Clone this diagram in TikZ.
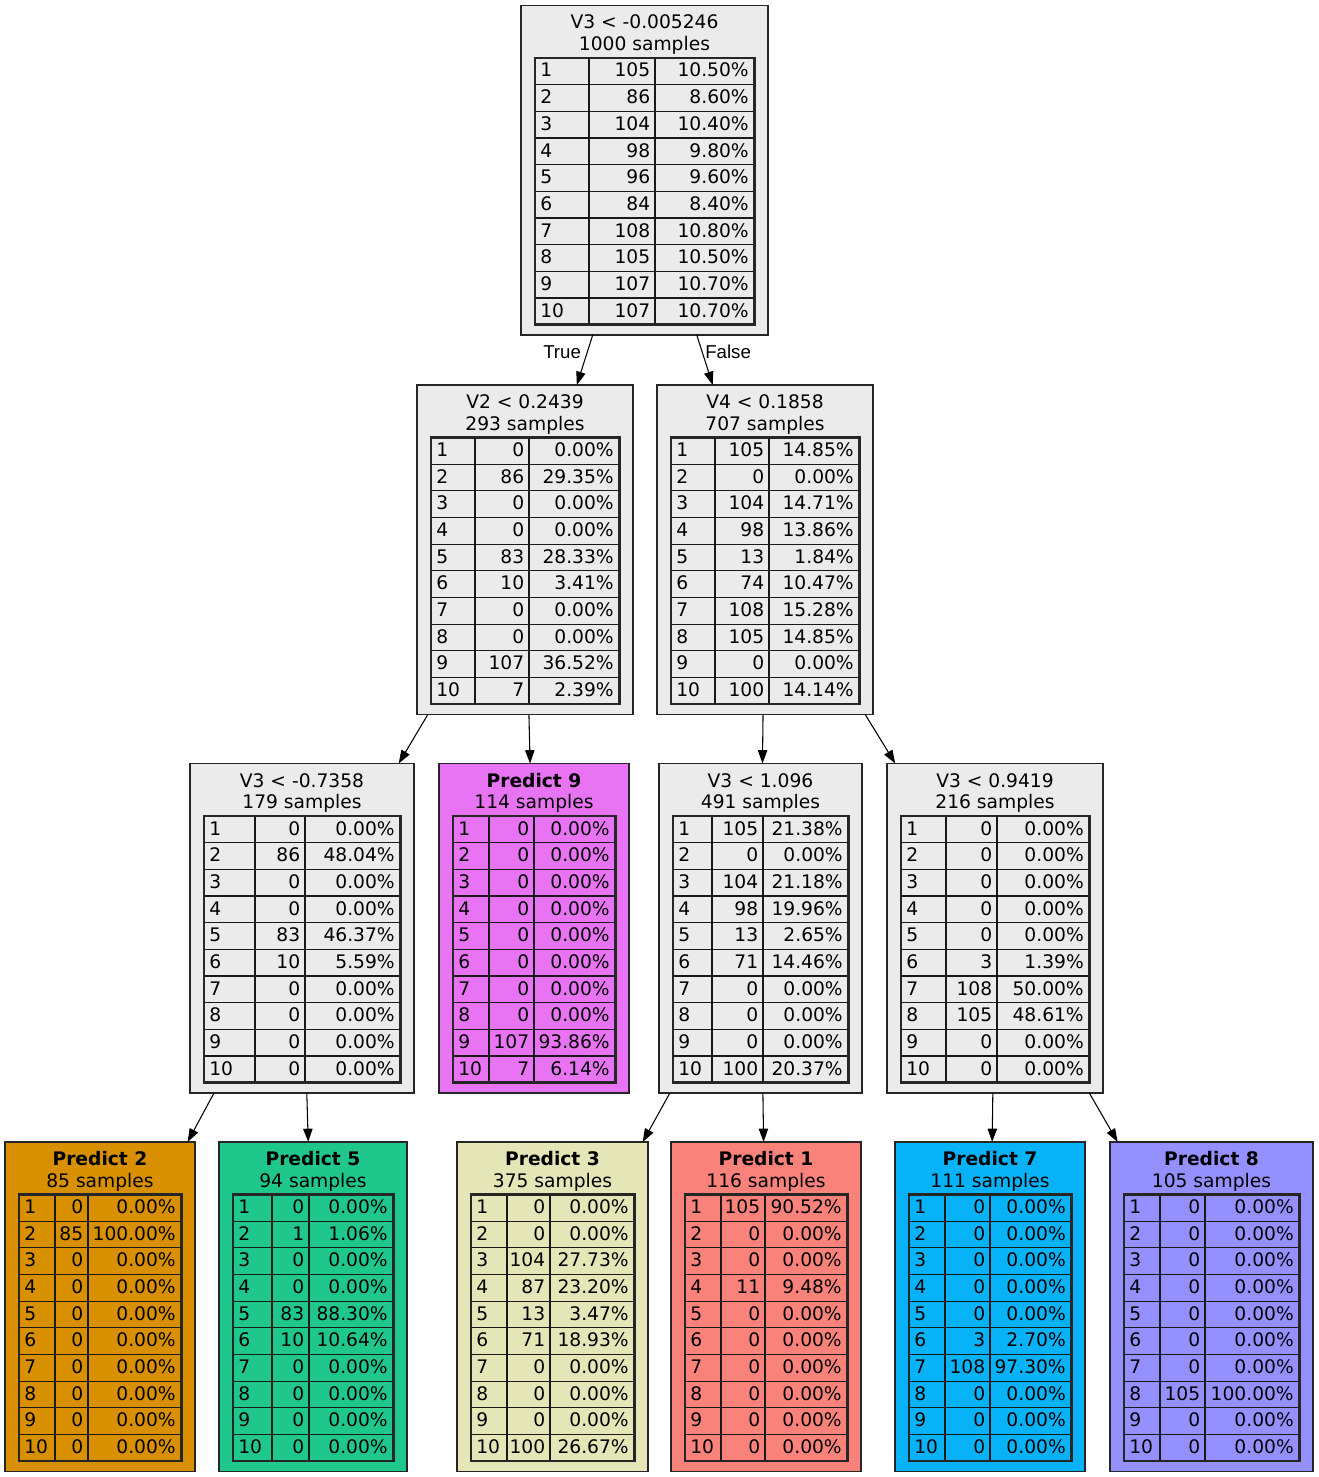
\documentclass[tikz,border=0pt]{standalone}
\usepackage{fontspec}
\setmainfont{DejaVu Sans}
\newfontfamily\lblfont{Liberation Sans}
\usetikzlibrary{arrows.meta}
\definecolor{nodegray}{HTML}{EBEBEB}
\definecolor{kone}{HTML}{F8766D}
\definecolor{ktwo}{HTML}{D89000}
\definecolor{kthree}{HTML}{A3A500}
\definecolor{kfive}{HTML}{00BF7D}
\definecolor{kseven}{HTML}{00B0F6}
\definecolor{keight}{HTML}{9590FF}
\definecolor{knine}{HTML}{E76BF3}
\tikzset{
  box/.style={draw=black!85, line width=0.8pt, rectangle, inner sep=0pt, outer sep=0pt},
  txt/.style={font=\fontsize{14}{16}\selectfont, inner sep=0pt, anchor=base},
  cell/.style={font=\fontsize{14}{16}\selectfont, inner sep=0pt},
  cellline/.style={draw=black!90, line width=0.85pt},
  tframe/.style={draw=black!85, line width=1.9pt},
  edge/.style={draw=black, line width=0.8pt, -{Triangle[length=10pt,width=7pt]}},
  elabel/.style={font=\lblfont\fontsize{14}{16}\selectfont, inner sep=0pt, anchor=base west},
}
\newcommand\dtnode[9]{%
  % #1 name, #2 x1, #3 x2, #4 top, #5 fill, #6 title, #7 samples, #8 c1, #9 c2
  \node[box, fill=#5, minimum width={(#3-#2)*0.75pt}, minimum height={329.5*0.75pt}] (#1) at ({(#2+#3)/2},{#4+164.75}) {};
  \node[txt] (#1-t) at ({(#2+#3)/2},{#4+23.5}) {#6};
  \node[txt] (#1-s) at ({(#2+#3)/2},{#4+45}) {#7};
  \pgfmathsetmacro\tT{#4+52.5}
  \pgfmathsetmacro\tB{#4+52.5+266.7}
  \pgfmathsetmacro\txa{#2+14}
  \pgfmathsetmacro\txb{#3-13.5}
  \foreach \k in {1,...,9}{
    \draw[cellline] (\txa,{\tT+26.67*\k}) -- (\txb,{\tT+26.67*\k});
  }
  \draw[cellline] (#8,\tT) -- (#8,\tB);
  \draw[cellline] (#9,\tT) -- (#9,\tB);
  \draw[tframe] (\txa,\tT) rectangle (\txb,\tB);
  \foreach \b/\c [count=\i] in \rows {
    \pgfmathsetmacro\yy{\tT+26.67*(\i-1)+19}
    \node[cell, anchor=base west] (#1-a\i) at (\txa+5,\yy) {\i};
    \node[cell, anchor=base east] (#1-b\i) at (#9-4.5,\yy) {\b};
    \node[cell, anchor=base east] (#1-c\i) at (\txb-5.5,\yy) {\c\%};
  }
}
\begin{document}
\begin{tikzpicture}[x=0.75pt,y=-0.75pt]
\useasboundingbox (0,0) rectangle (1319,1477);

\def\rows{105/10.50,86/8.60,104/10.40,98/9.80,96/9.60,84/8.40,108/10.80,105/10.50,107/10.70,107/10.70}
\dtnode{root}{521}{768}{5.5}{nodegray}{V3 < -0.005246}{1000 samples}{589}{655}

\def\rows{0/0.00,86/29.35,0/0.00,0/0.00,83/28.33,10/3.41,0/0.00,0/0.00,107/36.52,7/2.39}
\dtnode{vtwo}{417}{633}{385}{nodegray}{V2 < 0.2439}{293 samples}{475}{529}

\def\rows{105/14.85,0/0.00,104/14.71,98/13.86,13/1.84,74/10.47,108/15.28,105/14.85,0/0.00,100/14.14}
\dtnode{vfour}{657}{873}{385}{nodegray}{V4 < 0.1858}{707 samples}{715}{769}

\def\rows{0/0.00,86/48.04,0/0.00,0/0.00,83/46.37,10/5.59,0/0.00,0/0.00,0/0.00,0/0.00}
\dtnode{va}{190}{414}{763.5}{nodegray}{V3 < -0.7358}{179 samples}{255}{305}

\def\rows{0/0.00,0/0.00,0/0.00,0/0.00,0/0.00,0/0.00,0/0.00,0/0.00,107/93.86,7/6.14}
\dtnode{pnine}{439}{629}{763.5}{knine!94!white}{\bfseries Predict 9}{114 samples}{489}{534}

\def\rows{105/21.38,0/0.00,104/21.18,98/19.96,13/2.65,71/14.46,0/0.00,0/0.00,0/0.00,100/20.37}
\dtnode{vb}{659}{862}{763.5}{nodegray}{V3 < 1.096}{491 samples}{712}{763}

\def\rows{0/0.00,0/0.00,0/0.00,0/0.00,0/0.00,3/1.39,108/50.00,105/48.61,0/0.00,0/0.00}
\dtnode{vc}{887}{1103}{763.5}{nodegray}{V3 < 0.9419}{216 samples}{946}{997}

\def\rows{0/0.00,85/100.00,0/0.00,0/0.00,0/0.00,0/0.00,0/0.00,0/0.00,0/0.00,0/0.00}
\dtnode{ptwo}{5}{195}{1142}{ktwo}{\bfseries Predict 2}{85 samples}{55}{88}

\def\rows{0/0.00,1/1.06,0/0.00,0/0.00,83/88.30,10/10.64,0/0.00,0/0.00,0/0.00,0/0.00}
\dtnode{pfive}{219}{407}{1142}{kfive!88!white}{\bfseries Predict 5}{94 samples}{272}{309}

\def\rows{0/0.00,0/0.00,104/27.73,87/23.20,13/3.47,71/18.93,0/0.00,0/0.00,0/0.00,100/26.67}
\dtnode{pthree}{457}{648}{1142}{kthree!28!white}{\bfseries Predict 3}{375 samples}{507}{550}

\def\rows{105/90.52,0/0.00,0/0.00,11/9.48,0/0.00,0/0.00,0/0.00,0/0.00,0/0.00,0/0.00}
\dtnode{pone}{671}{861}{1142}{kone!91!white}{\bfseries Predict 1}{116 samples}{721}{765}

\def\rows{0/0.00,0/0.00,0/0.00,0/0.00,0/0.00,3/2.70,108/97.30,0/0.00,0/0.00,0/0.00}
\dtnode{pseven}{895}{1085}{1142}{kseven!97!white}{\bfseries Predict 7}{111 samples}{945}{990}

\def\rows{0/0.00,0/0.00,0/0.00,0/0.00,0/0.00,0/0.00,0/0.00,105/100.00,0/0.00,0/0.00}
\dtnode{peight}{1110}{1313}{1142}{keight}{\bfseries Predict 8}{105 samples}{1160}{1205}

\draw[edge] (root) -- (vtwo);
\draw[edge] (root) -- (vfour);
\draw[edge] (vtwo) -- (va);
\draw[edge] (vtwo) -- (pnine);
\draw[edge] (vfour) -- (vb);
\draw[edge] (vfour) -- (vc);
\draw[edge] (va) -- (ptwo);
\draw[edge] (va) -- (pfive);
\draw[edge] (vb) -- (pthree);
\draw[edge] (vb) -- (pone);
\draw[edge] (vc) -- (pseven);
\draw[edge] (vc) -- (peight);

\node[elabel] (ltrue) at (543,358) {True};
\node[elabel] (lfalse) at (705,358) {False};
\end{tikzpicture}
\end{document}
